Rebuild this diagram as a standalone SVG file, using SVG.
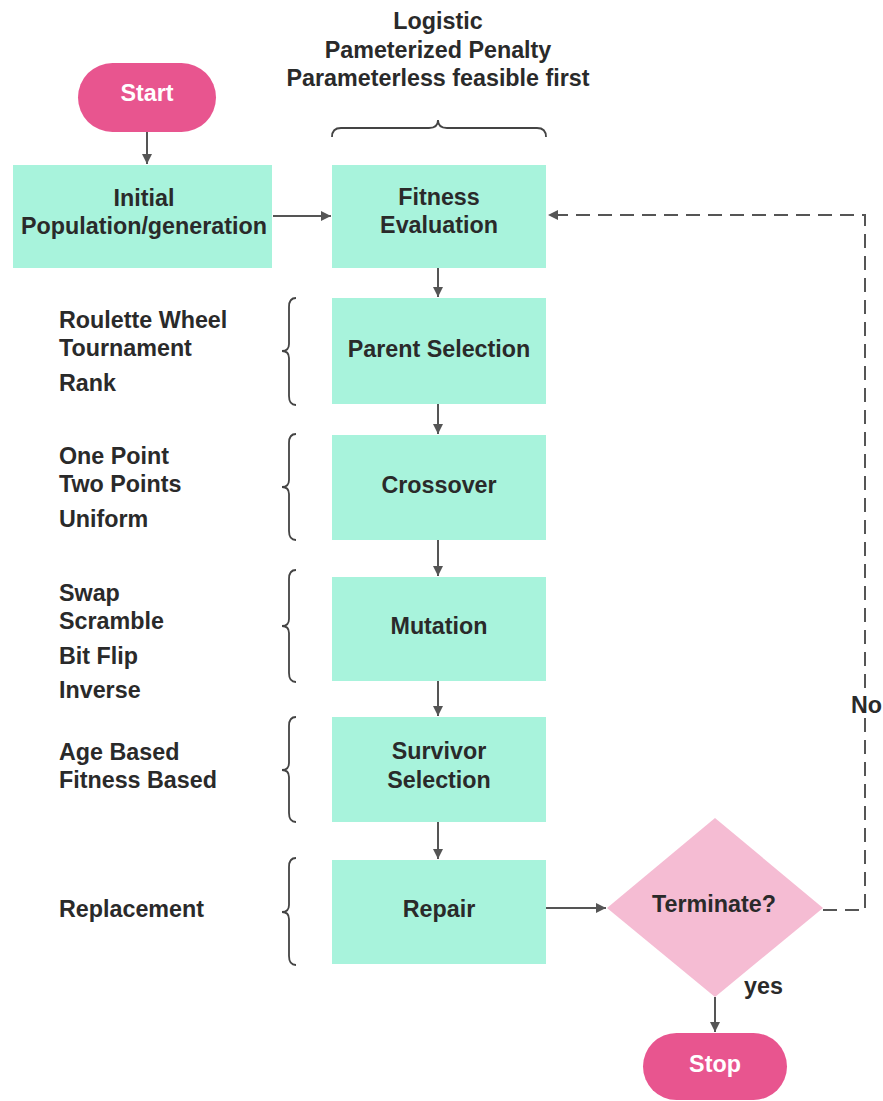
<svg xmlns="http://www.w3.org/2000/svg" width="883" height="1101" viewBox="0 0 883 1101">
<style>
.t{font-family:"Liberation Sans",Arial,sans-serif;font-weight:bold;font-size:23.3px;fill:#2a2a2a}
.c{text-anchor:middle}
.w{fill:#ffffff}
.box{fill:#a8f3dc}
.pill{fill:#e8558f}
.dia{fill:#f5bcd3}
.ln{stroke:#555;stroke-width:2;fill:none}
.br{stroke:#444;stroke-width:1.8;fill:none}
.dash{stroke:#555;stroke-width:2;fill:none;stroke-dasharray:14 8}
</style>
<defs>
<marker id="ah" viewBox="0 0 10 10" refX="10" refY="5" markerWidth="10" markerHeight="10" markerUnits="userSpaceOnUse" orient="auto">
<path d="M0,0 L10,5 L0,10 Z" fill="#555"/>
</marker>
</defs>
<rect width="883" height="1101" fill="#ffffff"/>

<g id="annotations">
<text class="t c" x="438" y="29">Logistic</text>
<text class="t c" x="438" y="58">Pameterized Penalty</text>
<text class="t c" x="438" y="86">Parameterless feasible first</text>
<path class="br" d="M332,137 Q332,128 341,128 L429,128 Q438,128 438,120 Q438,128 447,128 L537,128 Q546,128 546,137"/>
<text class="t" x="59" y="328">Roulette Wheel</text>
<text class="t" x="59" y="356">Tournament</text>
<text class="t" x="59" y="391">Rank</text>
<path class="br" d="M296,298 Q289,298 289,307 L289,344 Q289,351 282,351 Q289,351 289,358 L289,396 Q289,405 296,405"/>
<text class="t" x="59" y="464">One Point</text>
<text class="t" x="59" y="492">Two Points</text>
<text class="t" x="59" y="527">Uniform</text>
<path class="br" d="M296,434 Q289,434 289,443 L289,480 Q289,487 282,487 Q289,487 289,494 L289,531 Q289,540 296,540"/>
<text class="t" x="59" y="601">Swap</text>
<text class="t" x="59" y="629">Scramble</text>
<text class="t" x="59" y="664">Bit Flip</text>
<text class="t" x="59" y="698">Inverse</text>
<path class="br" d="M296,570 Q289,570 289,579 L289,619 Q289,626 282,626 Q289,626 289,633 L289,673 Q289,682 296,682"/>
<text class="t" x="59" y="760">Age Based</text>
<text class="t" x="59" y="788">Fitness Based</text>
<path class="br" d="M296,717 Q289,717 289,726 L289,763 Q289,770 282,770 Q289,770 289,777 L289,813 Q289,822 296,822"/>
<text class="t" x="59" y="917">Replacement</text>
<path class="br" d="M296,858 Q289,858 289,867 L289,905 Q289,912 282,912 Q289,912 289,919 L289,956 Q289,965 296,965"/>
</g>

<g id="connectors">
<line class="ln" x1="147" y1="132" x2="147" y2="164" marker-end="url(#ah)"/>
<line class="ln" x1="273" y1="216" x2="331" y2="216" marker-end="url(#ah)"/>
<line class="ln" x1="438" y1="268" x2="438" y2="297" marker-end="url(#ah)"/>
<line class="ln" x1="438" y1="404" x2="438" y2="434" marker-end="url(#ah)"/>
<line class="ln" x1="438" y1="540" x2="438" y2="576" marker-end="url(#ah)"/>
<line class="ln" x1="438" y1="681" x2="438" y2="716" marker-end="url(#ah)"/>
<line class="ln" x1="438" y1="822" x2="438" y2="859" marker-end="url(#ah)"/>
<line class="ln" x1="546" y1="908" x2="606" y2="908" marker-end="url(#ah)"/>
<line class="ln" x1="715" y1="997" x2="715" y2="1032" marker-end="url(#ah)"/>
<path class="dash" d="M823,910 L865,910 L865,215 L548,215" marker-end="url(#ah)"/>
<text class="t" x="851" y="713">No</text>
<text class="t" x="744" y="994">yes</text>
</g>

<g id="start">
<rect class="pill" x="78" y="63" width="138" height="69" rx="34.5"/>
<text class="t c w" x="147" y="101">Start</text>
</g>
<g id="initial">
<rect class="box" x="13" y="165" width="259" height="103"/>
<text class="t c" x="144" y="206">Initial</text>
<text class="t c" x="144" y="234">Population/generation</text>
</g>
<g id="fitness">
<rect class="box" x="332" y="165" width="214" height="103"/>
<text class="t c" x="439" y="205">Fitness</text>
<text class="t c" x="439" y="233">Evaluation</text>
</g>
<g id="parent">
<rect class="box" x="332" y="298" width="214" height="106"/>
<text class="t c" x="439" y="357">Parent Selection</text>
</g>
<g id="crossover">
<rect class="box" x="332" y="435" width="214" height="105"/>
<text class="t c" x="439" y="493">Crossover</text>
</g>
<g id="mutation">
<rect class="box" x="332" y="577" width="214" height="104"/>
<text class="t c" x="439" y="634">Mutation</text>
</g>
<g id="survivor">
<rect class="box" x="332" y="717" width="214" height="105"/>
<text class="t c" x="439" y="759">Survivor</text>
<text class="t c" x="439" y="788">Selection</text>
</g>
<g id="repair">
<rect class="box" x="332" y="860" width="214" height="104"/>
<text class="t c" x="439" y="917">Repair</text>
</g>
<g id="terminate">
<polygon class="dia" points="715,818 823,908 715,997 607,908"/>
<text class="t c" x="714" y="912">Terminate?</text>
</g>
<g id="stop">
<rect class="pill" x="643" y="1033" width="144" height="67" rx="33.5"/>
<text class="t c w" x="715" y="1072">Stop</text>
</g>
</svg>
